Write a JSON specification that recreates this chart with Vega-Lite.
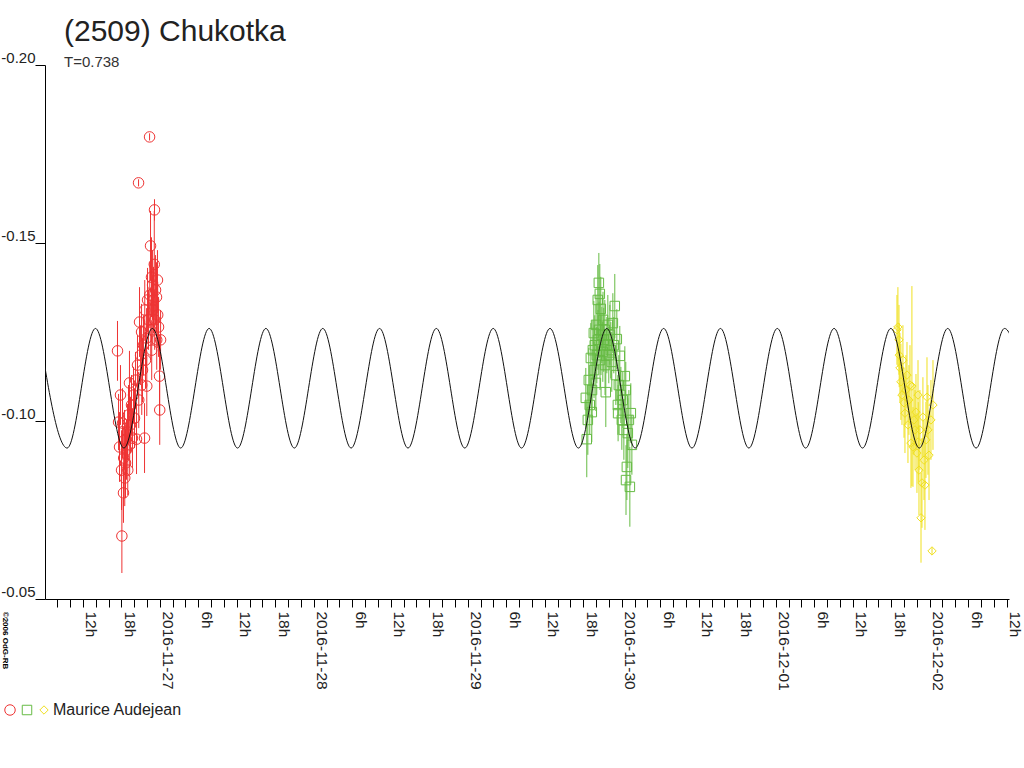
{
  "$schema": "https://vega.github.io/schema/vega-lite/v6.json",
  "width": 964,
  "height": 534,
  "padding": {"left": 45, "top": 65, "right": 15, "bottom": 169},
  "autosize": {"type": "none"},
  "background": "white",
  "title": {
    "text": "(2509) Chukotka",
    "subtitle": "T=0.738",
    "anchor": "start",
    "frame": "group",
    "dx": 19,
    "offset": -20,
    "fontSize": 30,
    "fontWeight": "normal",
    "color": "#222222",
    "subtitleFontSize": 15,
    "subtitleColor": "#333333",
    "subtitlePadding": 8
  },
  "datasets": {
    "model": [
      {"t": "2016-11-26T05:07:00Z", "v": -0.1260},
      {"t": "2016-11-26T09:33:00Z", "v": -0.0924},
      {"t": "2016-11-26T13:58:00Z", "v": -0.1260},
      {"t": "2016-11-26T18:24:00Z", "v": -0.0924},
      {"t": "2016-11-26T22:50:00Z", "v": -0.1260},
      {"t": "2016-11-27T03:15:00Z", "v": -0.0924},
      {"t": "2016-11-27T07:41:00Z", "v": -0.1260},
      {"t": "2016-11-27T12:07:00Z", "v": -0.0924},
      {"t": "2016-11-27T16:32:00Z", "v": -0.1260},
      {"t": "2016-11-27T20:58:00Z", "v": -0.0924},
      {"t": "2016-11-28T01:24:00Z", "v": -0.1260},
      {"t": "2016-11-28T05:49:00Z", "v": -0.0924},
      {"t": "2016-11-28T10:15:00Z", "v": -0.1260},
      {"t": "2016-11-28T14:41:00Z", "v": -0.0924},
      {"t": "2016-11-28T19:06:00Z", "v": -0.1260},
      {"t": "2016-11-28T23:32:00Z", "v": -0.0924},
      {"t": "2016-11-29T03:58:00Z", "v": -0.1260},
      {"t": "2016-11-29T08:23:00Z", "v": -0.0924},
      {"t": "2016-11-29T12:49:00Z", "v": -0.1260},
      {"t": "2016-11-29T17:15:00Z", "v": -0.0924},
      {"t": "2016-11-29T21:40:00Z", "v": -0.1260},
      {"t": "2016-11-30T02:06:00Z", "v": -0.0924},
      {"t": "2016-11-30T06:32:00Z", "v": -0.1260},
      {"t": "2016-11-30T10:57:00Z", "v": -0.0924},
      {"t": "2016-11-30T15:23:00Z", "v": -0.1260},
      {"t": "2016-11-30T19:49:00Z", "v": -0.0924},
      {"t": "2016-12-01T00:15:00Z", "v": -0.1260},
      {"t": "2016-12-01T04:40:00Z", "v": -0.0924},
      {"t": "2016-12-01T09:06:00Z", "v": -0.1260},
      {"t": "2016-12-01T13:32:00Z", "v": -0.0924},
      {"t": "2016-12-01T17:57:00Z", "v": -0.1260},
      {"t": "2016-12-01T22:23:00Z", "v": -0.0924},
      {"t": "2016-12-02T02:49:00Z", "v": -0.1260},
      {"t": "2016-12-02T07:14:00Z", "v": -0.0924},
      {"t": "2016-12-02T11:40:00Z", "v": -0.1260},
      {"t": "2016-12-02T16:06:00Z", "v": -0.0924}
    ],
    "obs": [
      {"t": "2016-11-26T17:24:00Z", "m": -0.1197, "e": 0.0084, "s": "s1"},
      {"t": "2016-11-26T17:34:00Z", "m": -0.0997, "e": 0.0079, "s": "s1"},
      {"t": "2016-11-26T17:43:00Z", "m": -0.0927, "e": 0.0098, "s": "s1"},
      {"t": "2016-11-26T17:52:00Z", "m": -0.1073, "e": 0.0084, "s": "s1"},
      {"t": "2016-11-26T18:02:00Z", "m": -0.0862, "e": 0.0112, "s": "s1"},
      {"t": "2016-11-26T18:05:00Z", "m": -0.0677, "e": 0.0104, "s": "s1"},
      {"t": "2016-11-26T18:11:00Z", "m": -0.0994, "e": 0.0098, "s": "s1"},
      {"t": "2016-11-26T18:20:00Z", "m": -0.0798, "e": 0.0084, "s": "s1"},
      {"t": "2016-11-26T18:22:00Z", "m": -0.0896, "e": 0.0090, "s": "s1"},
      {"t": "2016-11-26T18:30:00Z", "m": -0.0947, "e": 0.0084, "s": "s1"},
      {"t": "2016-11-26T18:32:00Z", "m": -0.0840, "e": 0.0079, "s": "s1"},
      {"t": "2016-11-26T18:39:00Z", "m": -0.0882, "e": 0.0098, "s": "s1"},
      {"t": "2016-11-26T18:48:00Z", "m": -0.0919, "e": 0.0084, "s": "s1"},
      {"t": "2016-11-26T18:58:00Z", "m": -0.0969, "e": 0.0079, "s": "s1"},
      {"t": "2016-11-26T19:00:00Z", "m": -0.0862, "e": 0.0070, "s": "s1"},
      {"t": "2016-11-26T19:07:00Z", "m": -0.1017, "e": 0.0084, "s": "s1"},
      {"t": "2016-11-26T19:16:00Z", "m": -0.1107, "e": 0.0090, "s": "s1"},
      {"t": "2016-11-26T19:18:00Z", "m": -0.0933, "e": 0.0084, "s": "s1"},
      {"t": "2016-11-26T19:26:00Z", "m": -0.0989, "e": 0.0079, "s": "s1"},
      {"t": "2016-11-26T19:35:00Z", "m": -0.1045, "e": 0.0084, "s": "s1"},
      {"t": "2016-11-26T19:44:00Z", "m": -0.0952, "e": 0.0084, "s": "s1"},
      {"t": "2016-11-26T19:54:00Z", "m": -0.1073, "e": 0.0079, "s": "s1"},
      {"t": "2016-11-26T20:03:00Z", "m": -0.1008, "e": 0.0084, "s": "s1"},
      {"t": "2016-11-26T20:13:00Z", "m": -0.1115, "e": 0.0079, "s": "s1"},
      {"t": "2016-11-26T20:22:00Z", "m": -0.0949, "e": 0.0098, "s": "s1"},
      {"t": "2016-11-26T20:31:00Z", "m": -0.1157, "e": 0.0084, "s": "s1"},
      {"t": "2016-11-26T20:41:00Z", "m": -0.1669, "e": 0.0010, "s": "s1"},
      {"t": "2016-11-26T20:43:00Z", "m": -0.1059, "e": 0.0079, "s": "s1"},
      {"t": "2016-11-26T20:50:00Z", "m": -0.1278, "e": 0.0098, "s": "s1"},
      {"t": "2016-11-26T21:00:00Z", "m": -0.1185, "e": 0.0084, "s": "s1"},
      {"t": "2016-11-26T21:09:00Z", "m": -0.1250, "e": 0.0079, "s": "s1"},
      {"t": "2016-11-26T21:11:00Z", "m": -0.1101, "e": 0.0084, "s": "s1"},
      {"t": "2016-11-26T21:18:00Z", "m": -0.1143, "e": 0.0090, "s": "s1"},
      {"t": "2016-11-26T21:27:00Z", "m": -0.1213, "e": 0.0084, "s": "s1"},
      {"t": "2016-11-26T21:37:00Z", "m": -0.0952, "e": 0.0098, "s": "s1"},
      {"t": "2016-11-26T21:39:00Z", "m": -0.1312, "e": 0.0084, "s": "s1"},
      {"t": "2016-11-26T21:46:00Z", "m": -0.1171, "e": 0.0079, "s": "s1"},
      {"t": "2016-11-26T21:56:00Z", "m": -0.1233, "e": 0.0084, "s": "s1"},
      {"t": "2016-11-26T21:58:00Z", "m": -0.1098, "e": 0.0084, "s": "s1"},
      {"t": "2016-11-26T22:05:00Z", "m": -0.1340, "e": 0.0090, "s": "s1"},
      {"t": "2016-11-26T22:14:00Z", "m": -0.1284, "e": 0.0084, "s": "s1"},
      {"t": "2016-11-26T22:24:00Z", "m": -0.1798, "e": 0.0010, "s": "s1"},
      {"t": "2016-11-26T22:26:00Z", "m": -0.1354, "e": 0.0093, "s": "s1"},
      {"t": "2016-11-26T22:33:00Z", "m": -0.1492, "e": 0.0098, "s": "s1"},
      {"t": "2016-11-26T22:35:00Z", "m": -0.1256, "e": 0.0084, "s": "s1"},
      {"t": "2016-11-26T22:42:00Z", "m": -0.1404, "e": 0.0112, "s": "s1"},
      {"t": "2016-11-26T22:44:00Z", "m": -0.1199, "e": 0.0084, "s": "s1"},
      {"t": "2016-11-26T22:52:00Z", "m": -0.1382, "e": 0.0098, "s": "s1"},
      {"t": "2016-11-26T22:54:00Z", "m": -0.1312, "e": 0.0098, "s": "s1"},
      {"t": "2016-11-26T23:01:00Z", "m": -0.1340, "e": 0.0093, "s": "s1"},
      {"t": "2016-11-26T23:08:00Z", "m": -0.1440, "e": 0.0150, "s": "s1"},
      {"t": "2016-11-26T23:10:00Z", "m": -0.1593, "e": 0.0030, "s": "s1"},
      {"t": "2016-11-26T23:12:00Z", "m": -0.1284, "e": 0.0084, "s": "s1"},
      {"t": "2016-11-26T23:20:00Z", "m": -0.1368, "e": 0.0098, "s": "s1"},
      {"t": "2016-11-26T23:29:00Z", "m": -0.1348, "e": 0.0098, "s": "s1"},
      {"t": "2016-11-26T23:31:00Z", "m": -0.1228, "e": 0.0084, "s": "s1"},
      {"t": "2016-11-26T23:38:00Z", "m": -0.1396, "e": 0.0084, "s": "s1"},
      {"t": "2016-11-26T23:40:00Z", "m": -0.1298, "e": 0.0093, "s": "s1"},
      {"t": "2016-11-26T23:48:00Z", "m": -0.1264, "e": 0.0084, "s": "s1"},
      {"t": "2016-11-26T23:57:00Z", "m": -0.1126, "e": 0.0112, "s": "s1"},
      {"t": "2016-11-26T23:59:00Z", "m": -0.1031, "e": 0.0098, "s": "s1"},
      {"t": "2016-11-27T00:07:00Z", "m": -0.1228, "e": 0.0084, "s": "s1"},
      {"t": "2016-11-29T18:24:00Z", "m": -0.1065, "e": 0.0084, "s": "s2"},
      {"t": "2016-11-29T18:33:00Z", "m": -0.0949, "e": 0.0107, "s": "s2"},
      {"t": "2016-11-29T18:43:00Z", "m": -0.1003, "e": 0.0098, "s": "s2"},
      {"t": "2016-11-29T18:52:00Z", "m": -0.1115, "e": 0.0090, "s": "s2"},
      {"t": "2016-11-29T19:01:00Z", "m": -0.1045, "e": 0.0084, "s": "s2"},
      {"t": "2016-11-29T19:11:00Z", "m": -0.1177, "e": 0.0098, "s": "s2"},
      {"t": "2016-11-29T19:20:00Z", "m": -0.1025, "e": 0.0084, "s": "s2"},
      {"t": "2016-11-29T19:22:00Z", "m": -0.1087, "e": 0.0079, "s": "s2"},
      {"t": "2016-11-29T19:30:00Z", "m": -0.1199, "e": 0.0084, "s": "s2"},
      {"t": "2016-11-29T19:39:00Z", "m": -0.1247, "e": 0.0090, "s": "s2"},
      {"t": "2016-11-29T19:41:00Z", "m": -0.1143, "e": 0.0079, "s": "s2"},
      {"t": "2016-11-29T19:48:00Z", "m": -0.1213, "e": 0.0084, "s": "s2"},
      {"t": "2016-11-29T19:58:00Z", "m": -0.1107, "e": 0.0079, "s": "s2"},
      {"t": "2016-11-29T20:00:00Z", "m": -0.1270, "e": 0.0084, "s": "s2"},
      {"t": "2016-11-29T20:07:00Z", "m": -0.1185, "e": 0.0079, "s": "s2"},
      {"t": "2016-11-29T20:16:00Z", "m": -0.1340, "e": 0.0098, "s": "s2"},
      {"t": "2016-11-29T20:18:00Z", "m": -0.1228, "e": 0.0084, "s": "s2"},
      {"t": "2016-11-29T20:26:00Z", "m": -0.1388, "e": 0.0084, "s": "s2"},
      {"t": "2016-11-29T20:28:00Z", "m": -0.1256, "e": 0.0079, "s": "s2"},
      {"t": "2016-11-29T20:35:00Z", "m": -0.1357, "e": 0.0084, "s": "s2"},
      {"t": "2016-11-29T20:37:00Z", "m": -0.1171, "e": 0.0084, "s": "s2"},
      {"t": "2016-11-29T20:44:00Z", "m": -0.1315, "e": 0.0090, "s": "s2"},
      {"t": "2016-11-29T20:46:00Z", "m": -0.1213, "e": 0.0084, "s": "s2"},
      {"t": "2016-11-29T20:54:00Z", "m": -0.1242, "e": 0.0079, "s": "s2"},
      {"t": "2016-11-29T21:03:00Z", "m": -0.1194, "e": 0.0084, "s": "s2"},
      {"t": "2016-11-29T21:05:00Z", "m": -0.1284, "e": 0.0079, "s": "s2"},
      {"t": "2016-11-29T21:12:00Z", "m": -0.1228, "e": 0.0090, "s": "s2"},
      {"t": "2016-11-29T21:22:00Z", "m": -0.1256, "e": 0.0084, "s": "s2"},
      {"t": "2016-11-29T21:24:00Z", "m": -0.1157, "e": 0.0084, "s": "s2"},
      {"t": "2016-11-29T21:31:00Z", "m": -0.1081, "e": 0.0098, "s": "s2"},
      {"t": "2016-11-29T21:41:00Z", "m": -0.1213, "e": 0.0079, "s": "s2"},
      {"t": "2016-11-29T21:50:00Z", "m": -0.1270, "e": 0.0084, "s": "s2"},
      {"t": "2016-11-29T21:59:00Z", "m": -0.1185, "e": 0.0079, "s": "s2"},
      {"t": "2016-11-29T22:09:00Z", "m": -0.1242, "e": 0.0084, "s": "s2"},
      {"t": "2016-11-29T22:18:00Z", "m": -0.1199, "e": 0.0079, "s": "s2"},
      {"t": "2016-11-29T22:27:00Z", "m": -0.1166, "e": 0.0084, "s": "s2"},
      {"t": "2016-11-29T22:37:00Z", "m": -0.1275, "e": 0.0084, "s": "s2"},
      {"t": "2016-11-29T22:46:00Z", "m": -0.1213, "e": 0.0079, "s": "s2"},
      {"t": "2016-11-29T22:55:00Z", "m": -0.1323, "e": 0.0090, "s": "s2"},
      {"t": "2016-11-29T23:05:00Z", "m": -0.1129, "e": 0.0084, "s": "s2"},
      {"t": "2016-11-29T23:14:00Z", "m": -0.1230, "e": 0.0084, "s": "s2"},
      {"t": "2016-11-29T23:24:00Z", "m": -0.1045, "e": 0.0084, "s": "s2"},
      {"t": "2016-11-29T23:26:00Z", "m": -0.1022, "e": 0.0079, "s": "s2"},
      {"t": "2016-11-29T23:33:00Z", "m": -0.1101, "e": 0.0084, "s": "s2"},
      {"t": "2016-11-29T23:42:00Z", "m": -0.1183, "e": 0.0084, "s": "s2"},
      {"t": "2016-11-29T23:52:00Z", "m": -0.1073, "e": 0.0079, "s": "s2"},
      {"t": "2016-11-30T00:01:00Z", "m": -0.1003, "e": 0.0084, "s": "s2"},
      {"t": "2016-11-30T00:10:00Z", "m": -0.1059, "e": 0.0079, "s": "s2"},
      {"t": "2016-11-30T00:20:00Z", "m": -0.0975, "e": 0.0084, "s": "s2"},
      {"t": "2016-11-30T00:29:00Z", "m": -0.1126, "e": 0.0084, "s": "s2"},
      {"t": "2016-11-30T00:38:00Z", "m": -0.1087, "e": 0.0079, "s": "s2"},
      {"t": "2016-11-30T00:40:00Z", "m": -0.0834, "e": 0.0098, "s": "s2"},
      {"t": "2016-11-30T00:48:00Z", "m": -0.0871, "e": 0.0093, "s": "s2"},
      {"t": "2016-11-30T00:57:00Z", "m": -0.0966, "e": 0.0098, "s": "s2"},
      {"t": "2016-11-30T01:07:00Z", "m": -0.1003, "e": 0.0084, "s": "s2"},
      {"t": "2016-11-30T01:16:00Z", "m": -0.0815, "e": 0.0112, "s": "s2"},
      {"t": "2016-11-30T01:25:00Z", "m": -0.1022, "e": 0.0084, "s": "s2"},
      {"t": "2016-11-30T01:35:00Z", "m": -0.0933, "e": 0.0084, "s": "s2"},
      {"t": "2016-12-01T18:54:00Z", "m": -0.1256, "e": 0.0098, "s": "s3"},
      {"t": "2016-12-01T19:03:00Z", "m": -0.1264, "e": 0.0112, "s": "s3"},
      {"t": "2016-12-01T19:13:00Z", "m": -0.1228, "e": 0.0098, "s": "s3"},
      {"t": "2016-12-01T19:15:00Z", "m": -0.1185, "e": 0.0090, "s": "s3"},
      {"t": "2016-12-01T19:22:00Z", "m": -0.1149, "e": 0.0098, "s": "s3"},
      {"t": "2016-12-01T19:31:00Z", "m": -0.1110, "e": 0.0107, "s": "s3"},
      {"t": "2016-12-01T19:41:00Z", "m": -0.1073, "e": 0.0084, "s": "s3"},
      {"t": "2016-12-01T19:50:00Z", "m": -0.1171, "e": 0.0098, "s": "s3"},
      {"t": "2016-12-01T20:00:00Z", "m": -0.1051, "e": 0.0098, "s": "s3"},
      {"t": "2016-12-01T20:09:00Z", "m": -0.1022, "e": 0.0112, "s": "s3"},
      {"t": "2016-12-01T20:18:00Z", "m": -0.1087, "e": 0.0098, "s": "s3"},
      {"t": "2016-12-01T20:28:00Z", "m": -0.1129, "e": 0.0093, "s": "s3"},
      {"t": "2016-12-01T20:37:00Z", "m": -0.0989, "e": 0.0107, "s": "s3"},
      {"t": "2016-12-01T20:46:00Z", "m": -0.1059, "e": 0.0098, "s": "s3"},
      {"t": "2016-12-01T20:56:00Z", "m": -0.1101, "e": 0.0112, "s": "s3"},
      {"t": "2016-12-01T21:05:00Z", "m": -0.0938, "e": 0.0126, "s": "s3"},
      {"t": "2016-12-01T21:14:00Z", "m": -0.1098, "e": 0.0281, "s": "s3"},
      {"t": "2016-12-01T21:24:00Z", "m": -0.0927, "e": 0.0112, "s": "s3"},
      {"t": "2016-12-01T21:33:00Z", "m": -0.1003, "e": 0.0098, "s": "s3"},
      {"t": "2016-12-01T21:43:00Z", "m": -0.0975, "e": 0.0112, "s": "s3"},
      {"t": "2016-12-01T21:52:00Z", "m": -0.1025, "e": 0.0107, "s": "s3"},
      {"t": "2016-12-01T22:01:00Z", "m": -0.0910, "e": 0.0112, "s": "s3"},
      {"t": "2016-12-01T22:11:00Z", "m": -0.1073, "e": 0.0098, "s": "s3"},
      {"t": "2016-12-01T22:13:00Z", "m": -0.0941, "e": 0.0112, "s": "s3"},
      {"t": "2016-12-01T22:20:00Z", "m": -0.0862, "e": 0.0126, "s": "s3"},
      {"t": "2016-12-01T22:29:00Z", "m": -0.0975, "e": 0.0112, "s": "s3"},
      {"t": "2016-12-01T22:39:00Z", "m": -0.0728, "e": 0.0126, "s": "s3"},
      {"t": "2016-12-01T22:48:00Z", "m": -0.0826, "e": 0.0126, "s": "s3"},
      {"t": "2016-12-01T22:57:00Z", "m": -0.1011, "e": 0.0112, "s": "s3"},
      {"t": "2016-12-01T23:07:00Z", "m": -0.0890, "e": 0.0112, "s": "s3"},
      {"t": "2016-12-01T23:16:00Z", "m": -0.0820, "e": 0.0126, "s": "s3"},
      {"t": "2016-12-01T23:25:00Z", "m": -0.0947, "e": 0.0107, "s": "s3"},
      {"t": "2016-12-01T23:35:00Z", "m": -0.1067, "e": 0.0112, "s": "s3"},
      {"t": "2016-12-01T23:44:00Z", "m": -0.0975, "e": 0.0126, "s": "s3"},
      {"t": "2016-12-01T23:54:00Z", "m": -0.0904, "e": 0.0126, "s": "s3"},
      {"t": "2016-12-02T00:12:00Z", "m": -0.1003, "e": 0.0112, "s": "s3"},
      {"t": "2016-12-02T00:22:00Z", "m": -0.0635, "e": 0.0010, "s": "s3"},
      {"t": "2016-12-02T00:31:00Z", "m": -0.1045, "e": 0.0126, "s": "s3"}
    ]
  },
  "layer": [
    {
      "data": {"name": "obs"},
      "mark": {"type": "errorbar", "ticks": false, "thickness": 1},
      "encoding": {
        "x": {
          "field": "t",
          "type": "temporal",
          "scale": {"type": "utc", "domain": [{"year": 2016, "month": 11, "date": 26, "hours": 6, "minutes": 6, "utc": true}, {"year": 2016, "month": 12, "date": 2, "hours": 12, "minutes": 22, "utc": true}], "nice": false},
          "axis": {
            "title": null,
            "tickCount": 100,
            "values": [1480147200000, 1480154400000, 1480161600000, 1480168800000, 1480176000000, 1480183200000, 1480190400000, 1480197600000, 1480204800000, 1480212000000, 1480219200000, 1480226400000, 1480233600000, 1480240800000, 1480248000000, 1480255200000, 1480262400000, 1480269600000, 1480276800000, 1480284000000, 1480291200000, 1480298400000, 1480305600000, 1480312800000, 1480320000000, 1480327200000, 1480334400000, 1480341600000, 1480348800000, 1480356000000, 1480363200000, 1480370400000, 1480377600000, 1480384800000, 1480392000000, 1480399200000, 1480406400000, 1480413600000, 1480420800000, 1480428000000, 1480435200000, 1480442400000, 1480449600000, 1480456800000, 1480464000000, 1480471200000, 1480478400000, 1480485600000, 1480492800000, 1480500000000, 1480507200000, 1480514400000, 1480521600000, 1480528800000, 1480536000000, 1480543200000, 1480550400000, 1480557600000, 1480564800000, 1480572000000, 1480579200000, 1480586400000, 1480593600000, 1480600800000, 1480608000000, 1480615200000, 1480622400000, 1480629600000, 1480636800000, 1480644000000, 1480651200000, 1480658400000, 1480665600000, 1480672800000, 1480680000000],
            "tickSize": 8,
            "labelAngle": 90,
            "labelAlign": "left",
            "labelBaseline": "bottom",
            "labelPadding": 4,
            "labelOverlap": false,
            "labelFlush": false,
            "labelFontSize": 15.5,
            "labelExpr": "utchours(datum.value) == 0 ? utcFormat(datum.value, '%Y-%m-%d') : (utchours(datum.value) % 6 == 0 ? utcFormat(datum.value, '%-H') + 'h' : '')"
          }
        },
        "y": {
          "field": "m",
          "type": "quantitative",
          "scale": {"domain": [-0.2, -0.05], "reverse": true, "nice": false, "zero": false},
          "axis": {
            "values": [-0.2, -0.15, -0.1, -0.05],
            "labelExpr": "datum.value == -0.2 ? '-0.20' : datum.value == -0.15 ? '-0.15' : datum.value == -0.1 ? '-0.10' : '-0.05'",
            "tickSize": 10,
            "labelPadding": 0,
            "labelAlign": "right",
            "labelBaseline": "bottom",
            "labelFontSize": 15,
            "title": "©2006 OdG-RB",
            "titleAngle": 90,
            "titleFontSize": 8,
            "titleFontWeight": "bold",
            "titleX": -41,
            "titleY": 575,
            "titleAlign": "center",
            "titleBaseline": "middle"
          }
        },
        "yError": {"field": "e"},
        "color": {
          "field": "s",
          "type": "nominal",
          "scale": {"domain": ["s1", "s2", "s3"], "range": ["#ee3333", "#66bb44", "#f0e020"]}
        }
      }
    },
    {
      "data": {"name": "obs"},
      "mark": {"type": "point", "filled": false, "strokeWidth": 1, "opacity": 1},
      "encoding": {
        "x": {"field": "t", "type": "temporal"},
        "y": {"field": "m", "type": "quantitative"},
        "color": {
          "field": "s",
          "type": "nominal",
          "legend": {
            "title": null,
            "orient": "none",
            "legendX": -43,
            "legendY": 637,
            "direction": "horizontal",
            "columns": 3,
            "columnPadding": -5,
            "labelOffset": 1,
            "labelFontSize": 16,
            "labelColor": "#222222",
            "symbolSize": 110,
            "symbolStrokeWidth": 1,
            "labelExpr": "datum.label == 's3' ? '\u00a0\u00a0Maurice Audejean' : ''"
          }
        },
        "shape": {
          "field": "s",
          "type": "nominal",
          "scale": {"domain": ["s1", "s2", "s3"], "range": ["circle", "square", "diamond"]}
        },
        "size": {
          "field": "s",
          "type": "nominal",
          "scale": {"domain": ["s1", "s2", "s3"], "range": [110, 70, 200]},
          "legend": null
        }
      }
    },
    {
      "data": {"name": "model"},
      "mark": {"type": "line", "interpolate": "monotone", "clip": true, "color": "#111111", "strokeWidth": 1},
      "encoding": {
        "x": {"field": "t", "type": "temporal"},
        "y": {"field": "v", "type": "quantitative"}
      }
    }
  ],
  "config": {
    "view": {"stroke": null},
    "font": "Liberation Sans",
    "axis": {
      "grid": false,
      "domainColor": "#000000",
      "tickColor": "#000000",
      "labelColor": "#222222",
      "titleColor": "#000000"
    }
  }
}
